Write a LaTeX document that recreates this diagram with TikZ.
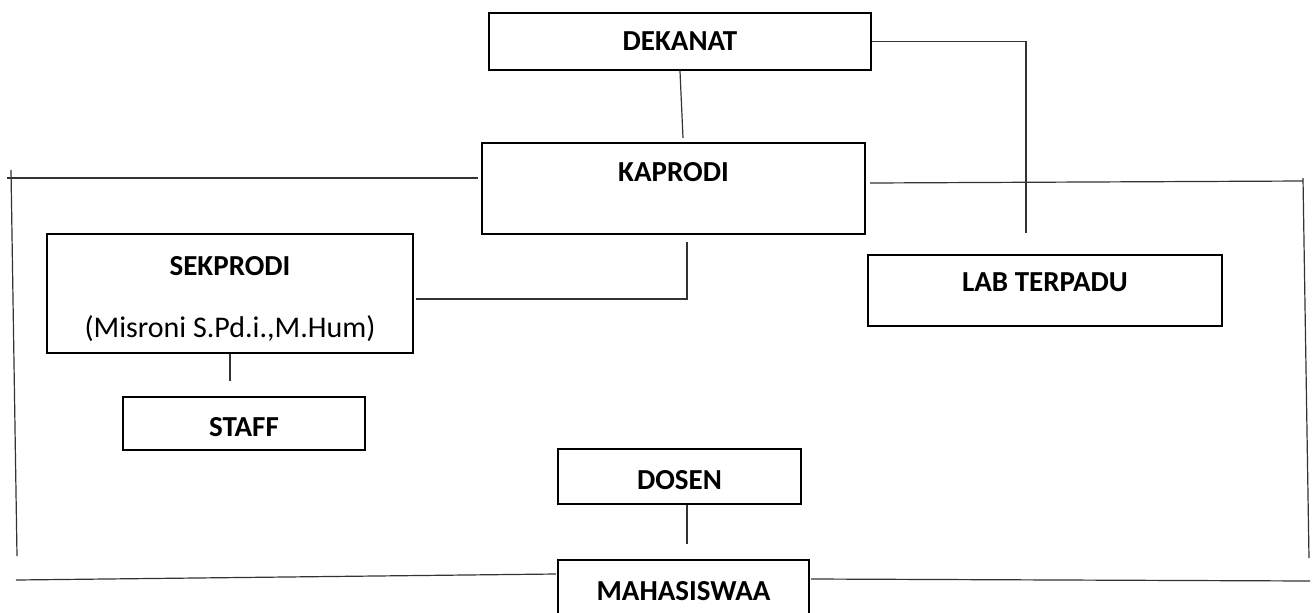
\documentclass[tikz,border=0pt]{standalone}
\usepackage{fontspec}
\setmainfont{Carlito}
\usetikzlibrary{calc}

\begin{document}
\begin{tikzpicture} [x=0.5pt, y=-0.5pt,
unit/.style={draw=black, line width=1.2pt, inner sep=0pt, font=\fontsize{14.5}{17}\selectfont\bfseries, text height=9pt, text depth=0pt},
link/.style={line width=0.6pt, black!80}]
\clip (0,0) rectangle (1314,612);

\node[unit, minimum width=191pt, minimum height=28.5pt] (dekanat) at (680,41.5) {DEKANAT};
\node[unit, minimum width=191.5pt, minimum height=45.5pt, text depth=16.5pt] (kaprodi) at (673.5,188.5) {KAPRODI};
\node[unit, minimum width=183pt, minimum height=59.5pt, align=center, text height=43.5pt] (sekprodi) at (230,293.5) {SEKPRODI\\[14pt]{\normalfont\fontsize{15}{17}\selectfont (Misroni S.Pd.i.,M.Hum)}};
\node[unit, minimum width=121pt, minimum height=26.5pt, text height=13pt] (staff) at (244,423.5) {STAFF};
\node[unit, minimum width=177pt, minimum height=35.5pt, text depth=8pt] (lab) at (1045,290.5) {LAB TERPADU};
\node[unit, minimum width=121.5pt, minimum height=27.5pt, text height=13pt] (dosen) at (679.5,476.5) {DOSEN};
\node[unit, minimum width=125.5pt, minimum height=31pt] (mahasiswa) at (683.5,591) {MAHASISWAA};

\coordinate (labtop) at (1026,233);
\coordinate (lefttop) at (11,170);
\coordinate (leftbot) at (17,556);
\coordinate (righttop) at (1303,178);
\coordinate (rightbot) at (1309,558);

\draw[link] (dekanat.south) -- ($(kaprodi.north)+(9.5,-4)$);
\draw[link] (dekanat.east) -| (labtop);
\draw[link] ($(kaprodi.east)+(4,-5.5)$) -- (1303,181);
\draw[link] (righttop) -- (rightbot);
\draw[link] (7,178) -- ($(kaprodi.west)+(-3,-10.5)$);
\draw[link] (lefttop) -- (leftbot);
\draw[link] ($(kaprodi.south)+(13.5,7)$) |- ($(sekprodi.east)+(2,5.5)$);
\draw[link] (sekprodi.south) -- ++(0,27);
\draw[link] ($(dosen.south)+(7.5,0)$) -- ++(0,39);
\draw[link] (16,580) -- ($(mahasiswa.west)+(-1,-17)$);
\draw[link] ($(mahasiswa.east)+(1,-12)$) -- (1310,581);

\end{tikzpicture}
\end{document}
